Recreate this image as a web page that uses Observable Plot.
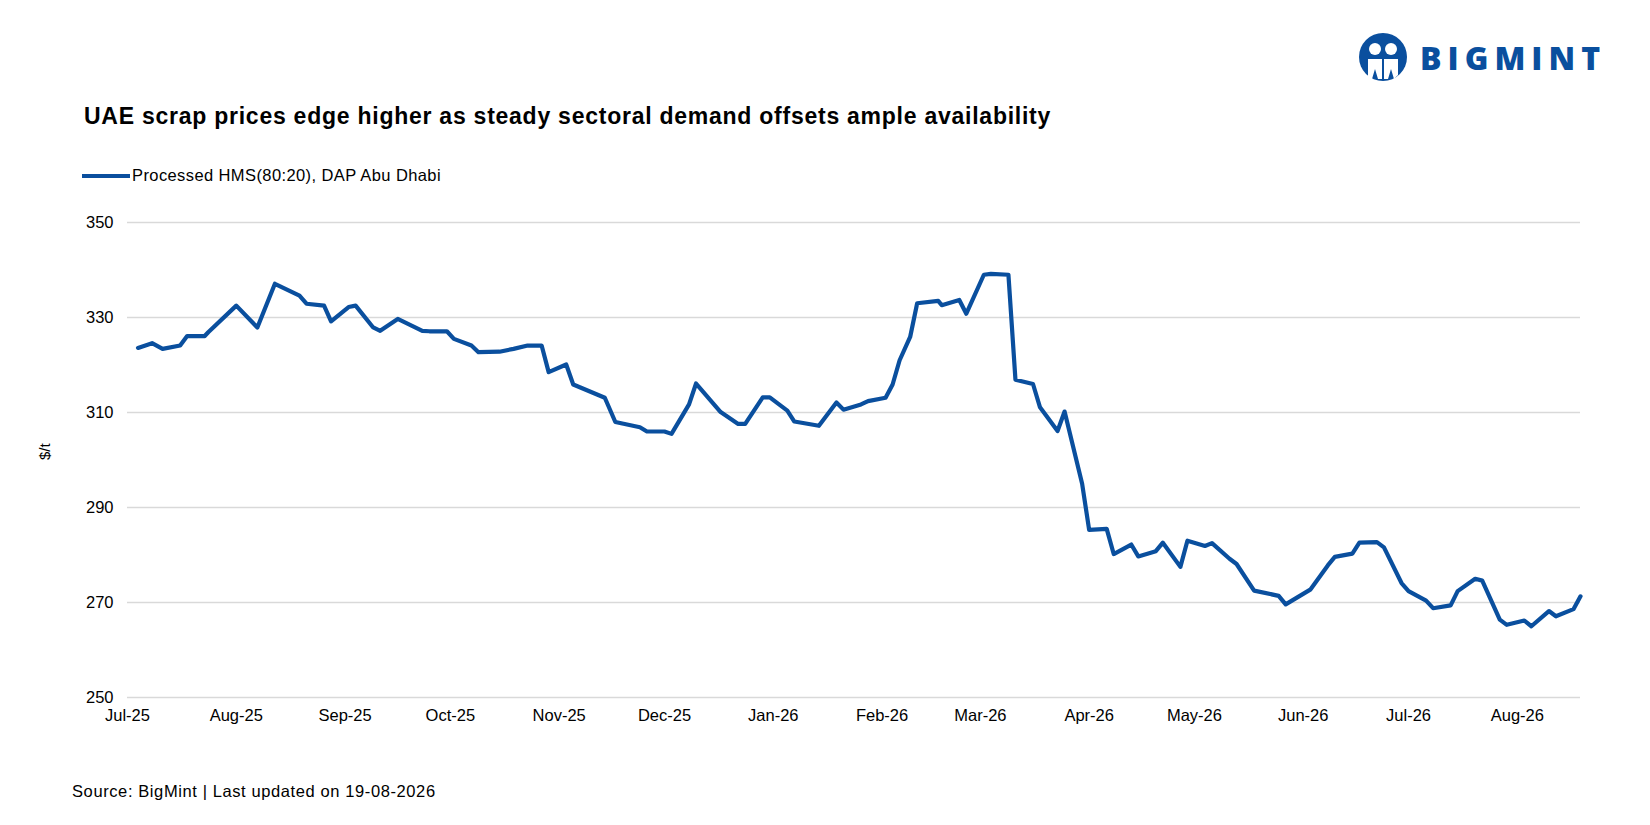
<!DOCTYPE html>
<html><head><meta charset="utf-8">
<script src="https://cdn.jsdelivr.net/npm/d3@7"></script>
<script src="https://cdn.jsdelivr.net/npm/@observablehq/plot@0.6"></script>
<style>
body{margin:0;background:#fff;font-family:"Liberation Sans",Arial,sans-serif;}
#wrap{position:relative;width:1650px;height:825px;overflow:hidden}
.abs{position:absolute;white-space:nowrap;color:#000}
</style></head><body>
<div id="wrap">
<div class="abs" style="left:84px;top:103px;font-size:23px;font-weight:bold;letter-spacing:0.75px;">UAE scrap prices edge higher as steady sectoral demand offsets ample availability</div>
<div class="abs" style="left:82px;top:166px;font-size:16.5px;letter-spacing:0.4px;display:flex;align-items:center;"><span style="display:inline-block;width:48px;height:4px;background:#0a4f9e;margin-right:2px"></span>Processed HMS(80:20), DAP Abu Dhabi</div>
<div class="abs" style="left:72px;top:782px;font-size:16.5px;letter-spacing:0.6px;">Source: BigMint | Last updated on 19-08-2026</div>
<div class="abs" style="left:1358px;top:32px;display:flex;align-items:center;">
<svg width="50" height="50" viewBox="0 0 50 50"><circle cx="25" cy="25" r="24" fill="#0a4f9e"/><circle cx="17" cy="17" r="6" fill="#fff"/><circle cx="33" cy="17" r="6" fill="#fff"/><path d="M10 27 h14 v20 h-4 l-3 -10 l-3 10 h-4z M26 27 h14 v16 l-4 4 l-3-10 l-3 10 h-4z" fill="#fff"/></svg>
<span style="font-family:'Open Sans',sans-serif;font-weight:800;font-size:32px;color:#0a4f9e;letter-spacing:6px;margin-left:12px">BIGMINT</span></div>
<div id="chart" style="position:absolute;left:0;top:0"></div>
</div>
<script>
const dates=["2025-07-04","2025-07-08","2025-07-11","2025-07-16","2025-07-18","2025-07-23","2025-07-24","2025-08-01","2025-08-07","2025-08-12","2025-08-19","2025-08-21","2025-08-26","2025-08-28","2025-09-02","2025-09-04","2025-09-09","2025-09-11","2025-09-16","2025-09-23","2025-09-25","2025-09-30","2025-10-02","2025-10-07","2025-10-09","2025-10-15","2025-10-19","2025-10-23","2025-10-27","2025-10-29","2025-11-03","2025-11-05","2025-11-14","2025-11-17","2025-11-24","2025-11-26","2025-12-01","2025-12-03","2025-12-08","2025-12-10","2025-12-17","2025-12-22","2025-12-24","2025-12-29","2025-12-31","2026-01-05","2026-01-07","2026-01-14","2026-01-19","2026-01-21","2026-01-26","2026-01-28","2026-02-02","2026-02-04","2026-02-06","2026-02-09","2026-02-11","2026-02-17","2026-02-18","2026-02-23","2026-02-25","2026-03-02","2026-03-04","2026-03-09","2026-03-11","2026-03-16","2026-03-18","2026-03-23","2026-03-25","2026-03-30","2026-04-01","2026-04-06","2026-04-08","2026-04-13","2026-04-15","2026-04-20","2026-04-22","2026-04-27","2026-04-29","2026-05-04","2026-05-06","2026-05-11","2026-05-13","2026-05-18","2026-05-25","2026-05-27","2026-06-03","2026-06-08","2026-06-10","2026-06-15","2026-06-17","2026-06-22","2026-06-24","2026-06-29","2026-07-01","2026-07-06","2026-07-08","2026-07-13","2026-07-15","2026-07-20","2026-07-22","2026-07-27","2026-07-29","2026-08-03","2026-08-05","2026-08-10","2026-08-12","2026-08-17","2026-08-19"];
const prices=[323.6,324.6,323.4,324.1,326.1,326.1,326.9,332.5,327.9,337.1,334.6,332.9,332.5,329.2,332.2,332.5,327.9,327.2,329.7,327.2,327.1,327.1,325.5,324.1,322.7,322.8,323.4,324.1,324.1,318.5,320.1,315.9,313.1,308.0,306.9,306.0,306.0,305.5,311.7,316.1,310.1,307.6,307.6,313.2,313.2,310.4,308.1,307.2,312.1,310.6,311.7,312.4,313.1,315.9,321.0,325.9,333.0,333.5,332.6,333.7,330.8,339.0,339.2,339.0,316.9,316.0,311.1,306.1,310.2,295.0,285.3,285.5,280.2,282.2,279.7,280.8,282.6,277.5,283.0,281.9,282.5,279.2,278.1,272.5,271.4,269.6,272.7,277.8,279.6,280.3,282.6,282.7,281.6,274.1,272.4,270.4,268.8,269.4,272.4,275.0,274.6,266.4,265.3,266.2,265.0,268.2,267.1,268.6,271.3];
const yTicks=[250,270,290,310,330,350];
const data=dates.map((d,i)=>({date:new Date(d+"T00:00:00"),price:prices[i]}));
const monthTicks=d3.timeMonth.range(new Date("2025-07-01T00:00:00"),new Date("2026-08-02T00:00:00"));
const fmt=d3.timeFormat("%b-%y");
const chart=Plot.plot({
  width:1650,height:825,
  marginTop:222,marginBottom:128,marginLeft:127,marginRight:70,
  style:{fontFamily:"Liberation Sans, Arial, sans-serif",fontSize:"16px",color:"#000",background:"transparent"},
  x:{type:"utc",domain:[new Date("2025-07-01T00:00:00"),new Date("2026-08-19T00:00:00")],ticks:monthTicks,tickFormat:fmt,tickSize:0,tickPadding:12,label:null},
  y:{domain:[250,350],ticks:yTicks,tickSize:0,tickPadding:14,label:null},
  marks:[
    Plot.gridY(yTicks,{stroke:"#d9d9d9",strokeOpacity:1,strokeWidth:1.5}),
    Plot.axisX({ticks:monthTicks,tickFormat:fmt,tickSize:0,tickPadding:12,fontSize:16.5,label:null}),
    Plot.axisY({ticks:yTicks,tickSize:0,tickPadding:14,fontSize:16.5,label:null}),
    Plot.line(data,{x:"date",y:"price",stroke:"#0a4f9e",strokeWidth:4.2,strokeLinejoin:"round",strokeLinecap:"round"}),
    Plot.text(["$/t"],{frameAnchor:"left",dx:-82,rotate:-90,fontSize:15})
  ]
});
document.getElementById("chart").appendChild(chart);
</script>
</body></html>
